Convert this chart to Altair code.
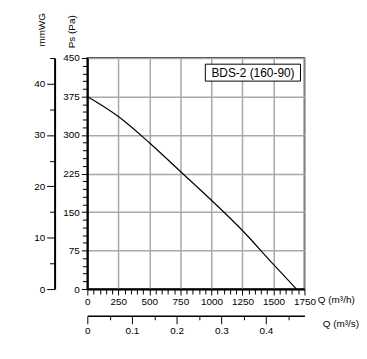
import altair as alt
import pandas as pd

# Curve data
q_m3h = [0, 250, 500, 750, 1000, 1250, 1500, 1686]
ps_pa = [375, 336, 285, 229, 173, 114, 48, 0]

# Tick values
pa_major = [0, 75, 150, 225, 300, 375, 450]
pa_minor = [15, 30, 45, 60, 90, 105, 120, 135, 165, 180, 195, 210, 240, 255, 270, 285,
            315, 330, 345, 360, 390, 405, 420, 435]
q_major = [0, 250, 500, 750, 1000, 1250, 1500, 1750]
q_minor = [50, 100, 150, 200, 300, 350, 400, 450, 550, 600, 650, 700, 800, 850, 900, 950,
           1050, 1100, 1150, 1200, 1300, 1350, 1400, 1450, 1550, 1600, 1650, 1700]
mm_major = [0, 10, 20, 30, 40]
mm_minor = [5, 15, 25, 35, 45]
qs_major = [0, 0.1, 0.2, 0.3, 0.4]
qs_minor = [0.05, 0.15, 0.25, 0.35, 0.45]

label_text = ["BDS-2 (160-90)"]

FONT = "Liberation Sans"

curve = pd.DataFrame({"q": q_m3h, "pa": ps_pa})

xq = alt.Scale(domain=[0, 1750], nice=False, zero=False)
yp = alt.Scale(domain=[0, 450], nice=False, zero=False)
ymm = alt.Scale(domain=[0, 45], nice=False, zero=False)
xqs = alt.Scale(domain=[0, 1750 / 3600], nice=False, zero=False)

common = dict(labelFont=FONT, labelFontSize=10, labelColor="black", titleFont=FONT,
              titleFontSize=10, titleFontWeight="normal", titleColor="black",
              tickColor="black", domainColor="black", labelOverlap=False, labelFlush=False)

line = alt.Chart(curve).mark_line(color="black", strokeWidth=1.2, interpolate="monotone").encode(
    x=alt.X("q:Q", scale=xq, axis=alt.Axis(
        orient="bottom", values=q_major, format="d", grid=True, gridColor="#a8a8a8",
        gridWidth=1.5, domainWidth=2, tickSize=6, tickWidth=1, labelPadding=2,
        title="Q (m³/h)", titleX=232, titleY=11, titleAlign="left", titleBaseline="middle",
        **common)),
    y=alt.Y("pa:Q", scale=yp, axis=alt.Axis(
        orient="left", values=pa_major, format="d", grid=True, gridColor="#a8a8a8",
        gridWidth=1.5, domainWidth=2, tickSize=6, tickWidth=1, labelPadding=2,
        title="Ps (Pa)", titleX=-16, titleY=-27, titleAngle=-90, titleAlign="center",
        titleBaseline="middle", **common)),
)

pa_minor_layer = alt.Chart(pd.DataFrame({"v": pa_minor})).mark_point(opacity=0).encode(
    y=alt.Y("v:Q", scale=yp, axis=alt.Axis(
        orient="left", values=pa_minor, tickSize=5, tickWidth=1, labels=False,
        domain=False, grid=False, title="", tickColor="black")),
)

q_minor_layer = alt.Chart(pd.DataFrame({"v": q_minor})).mark_point(opacity=0).encode(
    x=alt.X("v:Q", scale=xq, axis=alt.Axis(
        orient="bottom", values=q_minor, tickSize=5, tickWidth=1, labels=False,
        domain=False, grid=False, title="", tickColor="black")),
)

mm_layer = alt.Chart(pd.DataFrame({"mm": mm_major})).mark_point(opacity=0).encode(
    y=alt.Y("mm:Q", scale=ymm, axis=alt.Axis(
        orient="left", offset=33, values=mm_major, format="d", grid=False,
        domainWidth=2, tickSize=8, tickWidth=1, labelPadding=2,
        title="mmWG", titleX=-13, titleY=-29, titleAngle=-90, titleAlign="center",
        titleBaseline="middle", **common)),
)

mm_minor_layer = alt.Chart(pd.DataFrame({"v": mm_minor})).mark_point(opacity=0).encode(
    y=alt.Y("v:Q", scale=ymm, axis=alt.Axis(
        orient="left", offset=33, values=mm_minor, tickSize=5, tickWidth=1, labels=False,
        domain=False, grid=False, title="", tickColor="black")),
)

qs_layer = alt.Chart(pd.DataFrame({"qs": qs_major})).mark_point(opacity=0).encode(
    x=alt.X("qs:Q", scale=xqs, axis=alt.Axis(
        orient="bottom", offset=27, values=qs_major, format="~g", grid=False,
        domainWidth=1.5, tickSize=8, tickWidth=1, labelPadding=2,
        title="Q (m³/s)", titleX=237, titleY=8, titleAlign="left", titleBaseline="middle",
        **common)),
)

qs_minor_layer = alt.Chart(pd.DataFrame({"v": qs_minor})).mark_point(opacity=0).encode(
    x=alt.X("v:Q", scale=xqs, axis=alt.Axis(
        orient="bottom", offset=27, values=qs_minor, tickSize=4, tickWidth=1, labels=False,
        domain=False, grid=False, title="", tickColor="black")),
)

box_df = pd.DataFrame({"x1": [951], "x2": [1718], "y1": [405], "y2": [438],
                       "xc": [1335], "yc": [421.5], "t": label_text})

box = alt.Chart(box_df).mark_rect(fill="white", stroke="black", strokeWidth=1).encode(
    x=alt.X("x1:Q", scale=xq, axis=None), x2="x2:Q",
    y=alt.Y("y1:Q", scale=yp, axis=None), y2="y2:Q",
)
box_text = alt.Chart(box_df).mark_text(font=FONT, fontSize=12, color="black",
                                       align="center", baseline="middle").encode(
    x=alt.X("xc:Q", scale=xq, axis=None),
    y=alt.Y("yc:Q", scale=yp, axis=None),
    text="t:N",
)

chart = alt.layer(
    line, pa_minor_layer, q_minor_layer, mm_layer, mm_minor_layer, qs_layer, qs_minor_layer,
    box, box_text,
).resolve_scale(x="independent", y="independent").resolve_axis(
    x="independent", y="independent"
).properties(
    width=219, height=233,
    autosize=alt.AutoSizeParams(type="none"),
    padding={"left": 80, "top": 49, "right": 55, "bottom": 55},
).configure_view(stroke="black", strokeWidth=1.5)

chart.save("out.html", embed_options={"renderer": "svg", "actions": False})
